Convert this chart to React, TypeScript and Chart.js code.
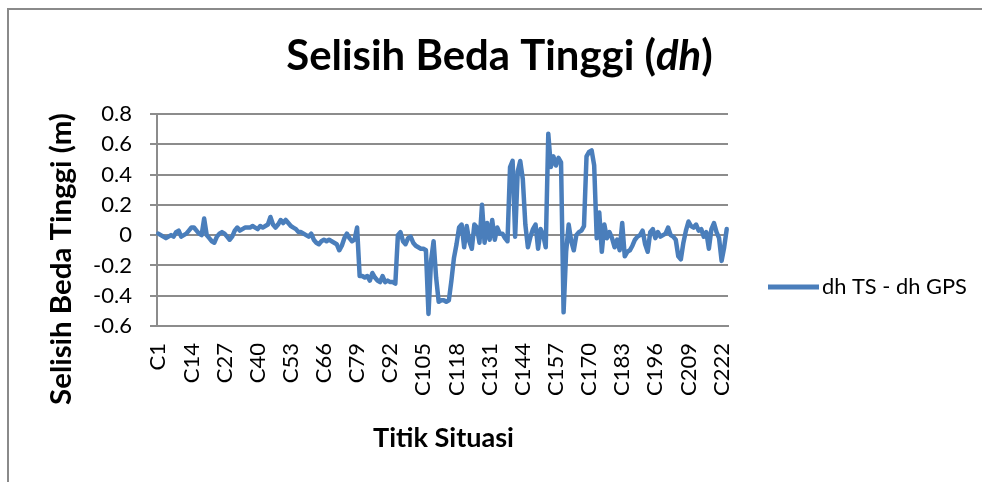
import React, { useEffect, useRef } from "react";
import { Chart, registerables } from "chart.js";

Chart.register(...registerables);

// ---------- data ----------
const pointCount = 224;
const categories: string[] = Array.from({ length: pointCount }, (_, i) => `C${i + 1}`);
const labelEvery = 13;

const dhValues: number[] = [
  0.01, 0.0, -0.01, -0.02, -0.01, 0.0, -0.01, 0.02, 0.03, -0.01,
  0.0, 0.01, 0.03, 0.05, 0.05, 0.03, 0.01, 0.0, 0.11, 0.0,
  -0.02, -0.04, -0.05, -0.01, 0.01, 0.02, 0.01, -0.01, -0.03, -0.01,
  0.03, 0.05, 0.03,
  0.04, 0.05, 0.05, 0.05, 0.06, 0.05, 0.04, 0.06, 0.05, 0.06,
  0.07, 0.12, 0.07, 0.05, 0.07, 0.1, 0.08, 0.1, 0.08, 0.06,
  0.05, 0.04, 0.02, 0.02, 0.01, 0.0, -0.01, 0.01, -0.03, -0.05,
  -0.06, -0.04,
  -0.03, -0.04, -0.03, -0.04, -0.05, -0.06, -0.1, -0.07, -0.02, 0.01,
  -0.02, -0.04, -0.03, 0.05, -0.27, -0.27, -0.28, -0.27, -0.3, -0.25,
  -0.28, -0.3, -0.31, -0.27, -0.31, -0.3, -0.31, -0.31, -0.32, 0.0,
  0.02, -0.04,
  -0.06, -0.02, -0.01, -0.05, -0.07, -0.08, -0.09, -0.09, -0.1, -0.52,
  -0.17, -0.04, -0.28, -0.44, -0.43, -0.43, -0.44, -0.43, -0.3, -0.15,
  -0.06, 0.05, 0.07, -0.08, 0.06, -0.04, -0.09, 0.07, 0.05, -0.05,
  0.2, -0.05,
  0.08, -0.03, 0.1, -0.03, 0.05, 0.01, 0.01, -0.02, -0.04, 0.45,
  0.49, -0.01, 0.42, 0.49, 0.37, 0.07, -0.08, -0.01, 0.04, 0.07,
  -0.09, 0.04, 0.0, -0.08, 0.67, 0.45, 0.52, 0.46, 0.51, 0.48,
  -0.51, -0.11,
  0.07, -0.04, -0.1, 0.0, 0.02, 0.03, 0.06, 0.52, 0.55, 0.56,
  0.46, -0.02, 0.15, -0.11, 0.07, -0.02, 0.02, -0.02, -0.08, -0.03,
  -0.1, 0.08, -0.14, -0.11, -0.1, -0.07, -0.03, -0.01, 0.0, 0.03,
  -0.06, -0.11, 0.02, 0.04, -0.02, 0.02, -0.01, 0.0, 0.01, 0.05,
  0.0, -0.01, -0.03, -0.14, -0.16, -0.05, 0.03, 0.09, 0.06, 0.05,
  0.07, 0.03, 0.04, -0.01, 0.02, -0.09, 0.04, 0.08, 0.02, -0.02,
  -0.17, -0.08, 0.04,
];

const yMin = -0.6;
const yMax = 0.8;
const yStep = 0.2;

const seriesLabel = "dh TS - dh GPS";
const titleParts = [
  { text: "Selisih Beda Tinggi (", italic: false },
  { text: "dh", italic: true },
  { text: ")", italic: false },
];
const yTitle = "Selisih Beda Tinggi (m)";
const xTitle = "Titik Situasi";

// ---------- styles ----------
const FONT = "Lato, 'Open Sans', sans-serif";
const GRID = "#8c8c8c";
const LINE = "#4a7ebb";

function fitFont(ctx: CanvasRenderingContext2D, text: string, weight: string, target: number) {
  const base = 40;
  ctx.font = `${weight} ${base}px ${FONT}`;
  const w = ctx.measureText(text).width;
  return (base * target) / w;
}

const textPlugin = {
  id: "excelText",
  beforeDraw(chart: any) {
    const ctx: CanvasRenderingContext2D = chart.ctx;
    ctx.save();
    ctx.fillStyle = "#ffffff";
    ctx.fillRect(0, 0, chart.width, chart.height);
    ctx.strokeStyle = "#8a8a8a";
    ctx.lineWidth = 2;
    ctx.beginPath();
    ctx.moveTo(8, chart.height);
    ctx.lineTo(8, 9);
    ctx.lineTo(chart.width, 9);
    ctx.stroke();
    ctx.restore();
  },
  afterDraw(chart: any) {
    const ctx: CanvasRenderingContext2D = chart.ctx;
    ctx.save();
    ctx.fillStyle = "#000000";

    // Title with italic "dh"
    const full = titleParts.map((p) => p.text).join("");
    const tSize = fitFont(ctx, full, "bold", 427);
    const widths = titleParts.map((p) => {
      ctx.font = `${p.italic ? "italic " : ""}bold ${tSize}px ${FONT}`;
      return ctx.measureText(p.text).width;
    });
    const total = widths.reduce((a, b) => a + b, 0);
    let x = 499.5 - total / 2;
    ctx.textBaseline = "alphabetic";
    ctx.textAlign = "left";
    titleParts.forEach((p, i) => {
      ctx.font = `${p.italic ? "italic " : ""}bold ${tSize}px ${FONT}`;
      ctx.fillText(p.text, x, 70);
      x += widths[i];
    });

    // Y axis title
    const ySize = fitFont(ctx, yTitle, "bold", 292);
    ctx.save();
    ctx.translate(62, 259);
    ctx.rotate(-Math.PI / 2);
    ctx.font = `bold ${ySize}px ${FONT}`;
    ctx.textAlign = "center";
    ctx.textBaseline = "middle";
    ctx.fillText(yTitle, 0, 0);
    ctx.restore();

    // X axis title
    const xSize = fitFont(ctx, xTitle, "bold", 141);
    ctx.font = `bold ${xSize}px ${FONT}`;
    ctx.textAlign = "center";
    ctx.textBaseline = "middle";
    ctx.fillText(xTitle, 443.5, 438);

    // Legend
    ctx.strokeStyle = LINE;
    ctx.lineWidth = 5;
    ctx.lineCap = "butt";
    ctx.beginPath();
    ctx.moveTo(768, 287);
    ctx.lineTo(819, 287);
    ctx.stroke();
    const lSize = fitFont(ctx, seriesLabel, "normal", 145);
    ctx.font = `normal ${lSize}px ${FONT}`;
    ctx.textAlign = "left";
    ctx.textBaseline = "middle";
    ctx.fillText(seriesLabel, 822, 287);

    ctx.restore();
  },
};

export default function App() {
  const ref = useRef<HTMLCanvasElement | null>(null);

  useEffect(() => {
    if (!ref.current) return;
    const chart = new Chart(ref.current, {
      type: "line",
      data: {
        labels: categories,
        datasets: [
          {
            label: seriesLabel,
            data: dhValues,
            borderColor: LINE,
            backgroundColor: LINE,
            borderWidth: 4.5,
            pointRadius: 0,
            pointHoverRadius: 0,
            tension: 0,
            borderJoinStyle: "round",
            borderCapStyle: "round",
            fill: false,
          },
        ],
      },
      options: {
        responsive: false,
        devicePixelRatio: 1,
        animation: false,
        layout: { padding: { top: 114, left: 0, right: 254, bottom: 0 } },
        plugins: {
          legend: { display: false },
          title: { display: false },
          tooltip: { enabled: false },
        },
        scales: {
          x: {
            type: "category",
            offset: true,
            grid: { display: false, drawTicks: false },
            border: { display: true, color: GRID, width: 2 },
            ticks: {
              autoSkip: false,
              minRotation: 90,
              maxRotation: 90,
              padding: 17,
              color: "#000000",
              font: { family: FONT, size: 22 },
              callback: (_v: any, idx: number) => (idx % labelEvery === 0 ? categories[idx] : ""),
            },
            afterFit: (scale: any) => {
              scale.height = 156;
            },
          },
          y: {
            min: yMin,
            max: yMax,
            grid: { color: GRID, lineWidth: 2, drawTicks: true, tickLength: 7 },
            border: { display: true, color: GRID, width: 2 },
            ticks: {
              stepSize: yStep,
              padding: 18,
              color: "#000000",
              font: { family: FONT, size: 22 },
              callback: (v: any) => String(Math.round(Number(v) * 10) / 10),
            },
            afterFit: (scale: any) => {
              scale.width = 157;
            },
          },
        },
      },
      plugins: [textPlugin],
    });
    return () => chart.destroy();
  }, []);

  return (
    <div style={{ position: "absolute", left: 0, top: 0, width: 982, height: 482, background: "#fff" }}>
      <canvas ref={ref} width={982} height={482} style={{ display: "block", width: 982, height: 482 }} />
    </div>
  );
}
